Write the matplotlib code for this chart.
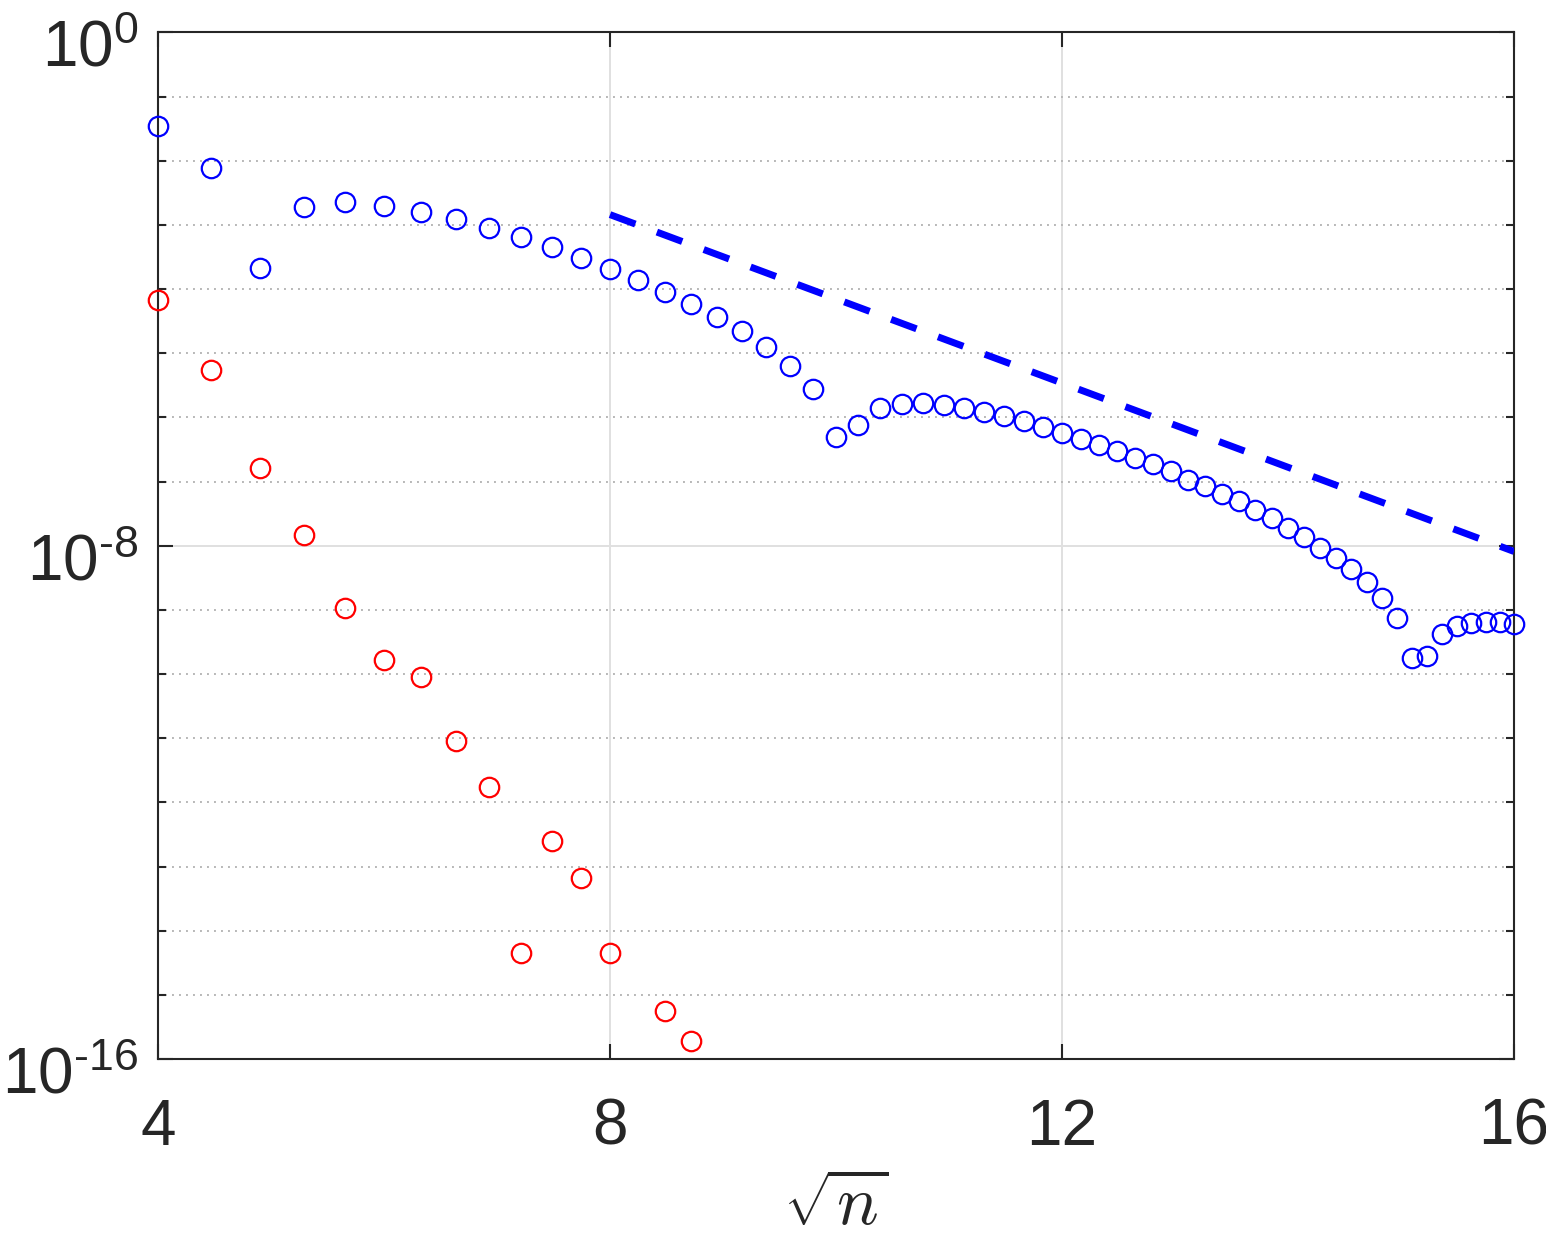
import matplotlib
matplotlib.use('Agg')
import matplotlib.pyplot as plt
import matplotlib.transforms as mtransforms
import numpy as np
from matplotlib.ticker import FixedLocator, NullLocator, NullFormatter

plt.rcParams['font.family'] = ['Liberation Sans', 'DejaVu Sans']
plt.rcParams['mathtext.fontset'] = 'custom'
plt.rcParams['mathtext.rm'] = 'Liberation Sans'
plt.rcParams['mathtext.it'] = 'Liberation Sans:italic'

# blue series: n = 16, 20, ..., 256, values as log10
n_blue = list(range(16, 257, 4))
log_blue = [-1.458, -2.117, -3.675, -2.715, -2.647, -2.699, -2.793, -2.911, -3.047, -3.192,
            -3.347, -3.509, -3.681, -3.857, -4.039, -4.235, -4.438, -4.656, -4.896, -5.192,
            -5.559, -6.307, -6.115, -5.855, -5.788, -5.777, -5.804, -5.855, -5.917, -5.986,
            -6.061, -6.146, -6.245, -6.338, -6.427, -6.531, -6.634, -6.727, -6.832, -6.972,
            -7.076, -7.190, -7.310, -7.439, -7.569, -7.724, -7.864, -8.036, -8.192, -8.363,
            -8.565, -8.815, -9.126, -9.749, -9.713, -9.371, -9.246, -9.204, -9.189, -9.195,
            -9.215]

# red series (n = 68 missing)
n_red = [16, 20, 24, 28, 32, 36, 40, 44, 48, 52, 56, 60, 64, 72, 76]
log_red = [-4.168, -5.259, -6.790, -7.840, -8.970, -9.780, -10.051, -11.037, -11.759,
           -14.355, -12.595, -13.182, -14.355, -15.254, -15.716]

# dashed reference line
dash_x = [8, 16]
dash_log = [-2.84, -8.09]

fig = plt.figure(figsize=(15.46, 12.36), dpi=100)
ax = fig.add_axes([0.1022, 0.1432, 0.8771, 0.8306])

ax.semilogy(np.sqrt(n_blue), 10.0**np.array(log_blue), 'o', color='#0000ff',
            mfc='none', ms=14, mew=1.6, clip_on=False, zorder=3)
ax.semilogy(np.sqrt(n_red), 10.0**np.array(log_red), 'o', color='#ff0000',
            mfc='none', ms=14, mew=1.6, clip_on=False, zorder=3)
ax.semilogy(dash_x, 10.0**np.array(dash_log), '-', color='#0000ff', lw=5,
            dashes=(3.9, 3.3), zorder=3)

ax.set_xlim(4, 16)
ax.set_ylim(1e-16, 1)
ax.set_xticks([4, 8, 12, 16])
ax.set_xticklabels(['4', '8', '12', '16'])
ax.xaxis.set_minor_locator(NullLocator())
ax.set_yticks([1e-16, 1e-8, 1])
ax.set_yticklabels([r'$10^{\text{-}16}$', r'$10^{\text{-}8}$', r'$10^{0}$'])
ax.yaxis.set_minor_locator(FixedLocator([10.0**k for k in range(-15, 0) if k != -8]))
ax.yaxis.set_minor_formatter(NullFormatter())

ax.tick_params(which='both', direction='in', top=True, right=True,
               colors='0.15', width=1.5)
ax.tick_params(which='major', length=11, labelsize=46)
ax.tick_params(axis='x', which='major', pad=28)
ax.tick_params(axis='y', which='major', pad=14)
ax.tick_params(which='minor', length=6)
for s in ax.spines.values():
    s.set_linewidth(1.5)
    s.set_color('0.15')

# MATLAB puts the exponent labels a bit lower than the tick
shift = mtransforms.ScaledTranslation(0, -8 / 72, fig.dpi_scale_trans)
for lab in ax.get_yticklabels():
    lab.set_transform(lab.get_transform() + shift)

ax.set_axisbelow(True)
ax.grid(True, which='major', color='0.88', lw=1.4, ls='-')
ax.grid(True, which='minor', axis='y', color='0.72', lw=1.4, ls=(0, (1, 2.6)))

ax.set_xlabel(r'$\sqrt{n}$', fontsize=50, math_fontfamily='cm', color='0.15', labelpad=12)

fig.savefig('out.png', dpi=100)
